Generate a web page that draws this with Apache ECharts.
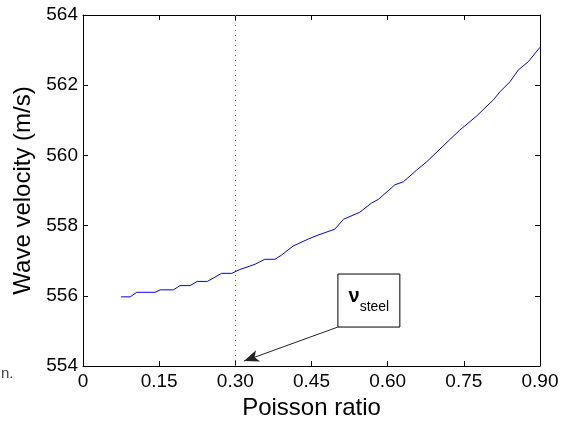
<!DOCTYPE html>
<html>
<head>
<meta charset="utf-8">
<script src="https://cdn.jsdelivr.net/npm/echarts@6/dist/echarts.min.js"></script>
<style>
  html, body { margin: 0; padding: 0; background: #fff; }
  #chart { width: 562px; height: 422px; }
</style>
</head>
<body>
<div id="chart"></div>
<script>
// poisson ratio vs wave velocity
var poisson = [0.075, 0.093, 0.106, 0.142, 0.152, 0.178, 0.191, 0.211, 0.225, 0.245,
    0.273, 0.293, 0.309, 0.339, 0.358, 0.378, 0.391, 0.414, 0.444, 0.463,
    0.496, 0.513, 0.545, 0.568, 0.582, 0.614, 0.631, 0.657, 0.677, 0.703,
    0.723, 0.742, 0.752, 0.775, 0.808, 0.821, 0.841, 0.857, 0.877, 0.900];
var velocity = [555.97, 555.97, 556.10, 556.10, 556.17, 556.17, 556.29, 556.29, 556.41, 556.41,
    556.64, 556.64, 556.75, 556.90, 557.04, 557.04, 557.16, 557.42, 557.62, 557.73,
    557.90, 558.18, 558.38, 558.64, 558.75, 559.16, 559.25, 559.58, 559.82, 560.18,
    560.46, 560.72, 560.84, 561.12, 561.58, 561.81, 562.10, 562.43, 562.67, 563.08];
var xTickLabels = ['0', '0.15', '0.30', '0.45', '0.60', '0.75', '0.90'];
var yTickLabels = ['554', '556', '558', '560', '562', '564'];
var nuSteel = 0.30;
// annotation box (data coords) and arrow tip
var boxCorners = [[0.502, 556.62], [0.624, 555.11]];
var arrowTip = [0.317, 554.14];

var font = 'Liberation Sans, Arial, sans-serif';
var points = [];
for (var i = 0; i < poisson.length; i++) {
    points.push([poisson[i], velocity[i]]);
}

var myChart = echarts.init(document.getElementById('chart'));
var option = {
    animation: false,
    backgroundColor: '#fff',
    grid: {
        left: 83,
        right: 22,
        top: 15,
        bottom: 56,
        containLabel: false,
        outerBoundsMode: 'none'
    },
    xAxis: [
        {
            type: 'value',
            min: 0,
            max: 0.9,
            interval: 0.15,
            name: 'Poisson ratio',
            nameLocation: 'middle',
            nameGap: 28,
            nameTextStyle: { fontFamily: font, fontSize: 24, color: '#000' },
            axisLine: { show: true, onZero: false, lineStyle: { color: '#000', width: 1 } },
            axisTick: { show: true, inside: true, length: 5, lineStyle: { color: '#000' } },
            axisLabel: {
                margin: 6,
                fontFamily: font,
                fontSize: 19,
                color: '#000',
                formatter: function (v) {
                    return xTickLabels[Math.round(v / 0.15)];
                }
            },
            splitLine: { show: false }
        },
        {
            type: 'value',
            position: 'top',
            min: 0,
            max: 0.9,
            interval: 0.15,
            axisLine: { show: true, onZero: false, lineStyle: { color: '#000', width: 1 } },
            axisTick: { show: true, inside: true, length: 5, lineStyle: { color: '#000' } },
            axisLabel: { show: false },
            splitLine: { show: false }
        }
    ],
    yAxis: [
        {
            type: 'value',
            min: 554,
            max: 564,
            interval: 2,
            name: 'Wave velocity (m/s)',
            nameLocation: 'middle',
            nameGap: 45,
            nameTextStyle: { fontFamily: font, fontSize: 24, color: '#000' },
            axisLine: { show: true, onZero: false, lineStyle: { color: '#000', width: 1 } },
            axisTick: { show: true, inside: true, length: 5, lineStyle: { color: '#000' } },
            axisLabel: {
                margin: 5,
                fontFamily: font,
                fontSize: 19,
                color: '#000',
                formatter: function (v) {
                    return yTickLabels[Math.round((v - 554) / 2)];
                }
            },
            splitLine: { show: false }
        },
        {
            type: 'value',
            position: 'right',
            min: 554,
            max: 564,
            interval: 2,
            axisLine: { show: true, onZero: false, lineStyle: { color: '#000', width: 1 } },
            axisTick: { show: true, inside: true, length: 5, lineStyle: { color: '#000' } },
            axisLabel: { show: false },
            splitLine: { show: false }
        }
    ],
    graphic: [
        {
            type: 'text',
            left: 1,
            top: 366,
            style: { text: 'n.', font: '15px ' + font, fill: '#444' }
        }
    ],
    series: [
        {
            name: 'velocity',
            type: 'line',
            data: points,
            showSymbol: false,
            symbol: 'none',
            lineStyle: { color: '#0000ff', width: 1 },
            markLine: {
                silent: true,
                animation: false,
                label: { show: false },
                data: [
                    [
                        { coord: [nuSteel, 554], symbol: 'none', lineStyle: { type: [1, 4], color: '#666', width: 1 } },
                        { coord: [nuSteel, 564], symbol: 'none' }
                    ],
                    [
                        { coord: [boxCorners[0][0], boxCorners[1][1]], symbol: 'none', lineStyle: { type: 'solid', color: '#222', width: 1 } },
                        { coord: arrowTip, symbol: 'arrow', symbolSize: [9, 15] }
                    ]
                ]
            },
            markArea: {
                silent: true,
                itemStyle: { color: '#fff', borderColor: '#000', borderWidth: 1 },
                label: {
                    show: true,
                    position: 'inside',
                    formatter: '{nu|ν}{sub|steel}',
                    rich: {
                        nu: { fontFamily: font, fontWeight: 'bold', fontSize: 20, color: '#000', verticalAlign: 'top', lineHeight: 28 },
                        sub: { fontFamily: font, fontSize: 14, color: '#000', verticalAlign: 'bottom', lineHeight: 28 }
                    }
                },
                data: [
                    [ { coord: boxCorners[0] }, { coord: boxCorners[1] } ]
                ]
            }
        }
    ]
};
myChart.setOption(option);
</script>
</body>
</html>
